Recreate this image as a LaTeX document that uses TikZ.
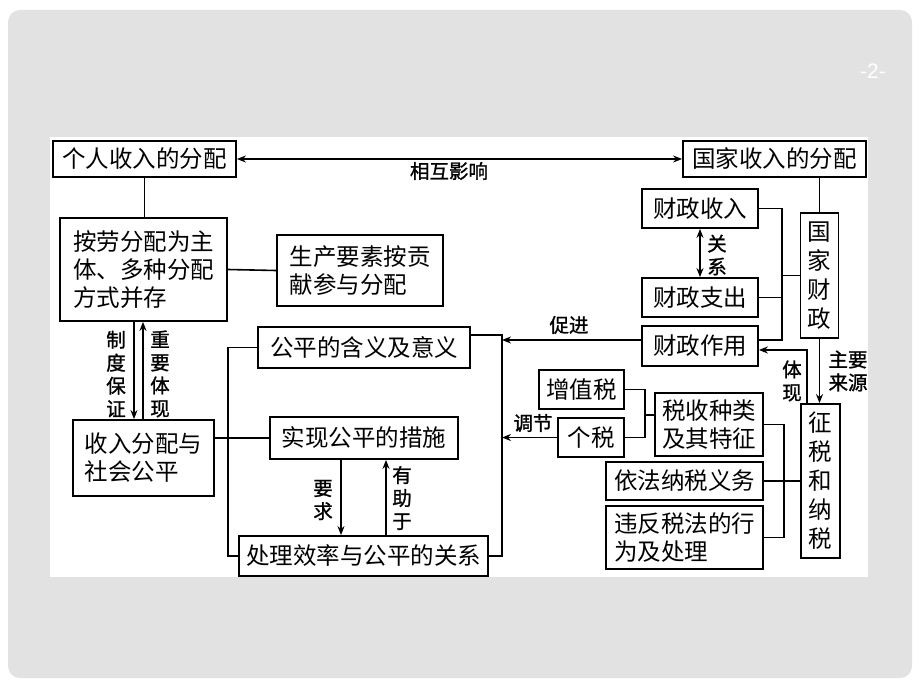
\documentclass[tikz,border=0pt]{standalone}
\usepackage{fontspec}
\setmainfont{Liberation Sans}
\newfontfamily\cjk{Noto Sans CJK SC}
\newfontfamily\cjkb[FakeBold=1.2]{Noto Sans CJK SC}
\usetikzlibrary{arrows.meta}
\definecolor{bgray}{RGB}{226,226,226}
\begin{document}
\begin{tikzpicture}[x=1pt,y=-1pt,
  box/.style={draw=black,line width=1.8pt,fill=white,inner sep=0pt,align=center,font=\cjk\fontsize{23.5}{28}\selectfont},
  lbox/.style={box,align=left},
  vbox/.style={box,font=\cjk\fontsize{23.5}{29}\selectfont},
  lbl/.style={inner sep=0pt,align=center,font=\cjkb\fontsize{19.5}{23}\selectfont},
  ln/.style={line width=1.6pt},
  arr/.style={ln,-{Stealth[length=9pt,width=7pt]}},
  darr/.style={ln,{Stealth[length=9pt,width=7pt]}-{Stealth[length=9pt,width=7pt]}}]
\useasboundingbox (0,0) rectangle (920,690);
\fill[white] (0,0) rectangle (920,690);
\fill[bgray, rounded corners=12pt] (8,10) rectangle (912,678);
\fill[white] (50,137) rectangle (868,577);
\node[text=white, font=\fontsize{21}{21}\selectfont] (pg) at (873,71) {-2-};

% helper x positions
\coordinate (bx) at (228,0);
\coordinate (bx2) at (502,0);
\coordinate (tx) at (645,0);
\coordinate (rx) at (782,0);
\coordinate (tx2) at (784,0);

% top boxes
\node[box, minimum width=183pt, minimum height=36pt] (p1) at (144.5,159) {个人收入的分配};
\node[box, minimum width=183pt, minimum height=36pt] (p2) at (774.5,159) {国家收入的分配};

% left part
\node[lbox, minimum width=167pt, minimum height=103pt] (a1) at (143.5,269.5) {按劳分配为主\\体、多种分配\\方式并存};
\node[lbox, minimum width=166pt, minimum height=71pt] (a2) at (360,270.5) {生产要素按贡\\献参与分配};
\node[lbox, minimum width=141pt, minimum height=76pt] (s1) at (143.5,458) {收入分配与\\社会公平};
\node[box, minimum width=212pt, minimum height=41pt] (f1) at (364,347.5) {公平的含义及意义};
\node[box, minimum width=188pt, minimum height=42pt] (f2) at (364,438) {实现公平的措施};
\node[box, minimum width=249pt, minimum height=40pt] (f3) at (363.5,556) {处理效率与公平的关系};

% right part
\node[box, minimum width=116pt, minimum height=39pt] (r1) at (700,208.5) {财政收入};
\node[box, minimum width=116pt, minimum height=39pt] (r2) at (700,297.5) {财政支出};
\node[box, minimum width=116pt, minimum height=40pt] (r3) at (700,346) {财政作用};
\node[vbox, minimum width=38pt, minimum height=125pt] (g1) at (819.5,275.5) {国\\家\\财\\政};
\node[vbox, minimum width=39pt, minimum height=154pt] (z1) at (820.5,481) {征\\税\\和\\纳\\税};
\node[box, minimum width=85pt, minimum height=39pt] (t1) at (581.5,389.5) {增值税};
\node[box, minimum width=66pt, minimum height=39pt] (t2) at (591,437.5) {个税};
\node[lbox, minimum width=108pt, minimum height=63pt] (t3) at (709,424.5) {税收种类\\及其特征};
\node[box, minimum width=157pt, minimum height=38pt] (t4) at (684.5,481) {依法纳税义务};
\node[lbox, minimum width=157pt, minimum height=63pt] (t5) at (684.5,537.5) {违反税法的行\\为及处理};

% labels
\node[lbl] (l0) at (449,171) {相互影响};
\node[lbl] (l1) at (116,374) {制\\度\\保\\证};
\node[lbl] (l2) at (160,374) {重\\要\\体\\现};
\node[lbl] (l3) at (323,500) {要\\求};
\node[lbl] (l4) at (402,498) {有\\助\\于};
\node[lbl] (l5) at (569,325) {促进};
\node[lbl] (l6) at (533,423) {调节};
\node[lbl] (l7) at (717,255) {关\\系};
\node[lbl] (l8) at (848,371) {主要\\来源};
\node[lbl] (l9) at (792,381) {体\\现};

% connectors left
\draw[darr] (p1.east) -- (p2.west);
\draw[ln] (p1.south) -- (p1.south |- a1.north);
\draw[ln] (a1.east) -- (a2.west);
\draw[arr] ([xshift=-9.5pt]a1.south) -- ([xshift=-9.5pt]a1.south |- s1.north);
\draw[arr] ([xshift=-0.5pt]a1.south |- s1.north) -- ([xshift=-0.5pt]a1.south);
\draw[ln] (s1.east |- f2.west) -- (f2.west);
\draw[ln] (f1.west) -- (f1.west -| bx) -- (f3.west -| bx) -- (f3.west);
\draw[arr] ([xshift=-23pt]f2.south) -- ([xshift=-23pt]f2.south |- f3.north);
\draw[arr] ([xshift=22pt]f2.south |- f3.north) -- ([xshift=22pt]f2.south);
\draw[ln] ([yshift=12.5pt]f1.east) -- ([yshift=12.5pt]f1.east -| bx2) -- (f3.east -| bx2) -- (f3.east);
\draw[arr] ([yshift=6pt]r3.west) -- ([yshift=6pt]r3.west -| bx2);
\draw[arr] (t2.west) -- (t2.west -| bx2);

% connectors right
\draw[darr] (r1.south) -- (r2.north);
\draw[ln] (r1.east) -- (r1.east -| rx) -- ([yshift=6pt]r3.east -| rx) -- ([yshift=6pt]r3.east);
\draw[ln] (r2.east) -- (r2.east -| rx);
\draw[ln] (g1.west) -- (g1.west -| rx);
\draw[ln] (g1.north |- p2.south) -- (g1.north);
\draw[arr] (g1.south) -- (g1.south |- z1.north);
\draw[arr] ([xshift=-13.5pt]z1.north) |- ([yshift=-4pt]r3.east);
\draw[ln] (t1.east) -- (t1.east -| tx) -- (t2.east -| tx) -- (t2.east);
\draw[ln] ([yshift=9.5pt]t3.west) -- ([yshift=9.5pt]t3.west -| tx);
\draw[ln] (t3.east) -- (t3.east -| tx2) -- (t5.east -| tx2) -- (t5.east);
\draw[ln] (t4.east) -- (t4.east -| z1.west);
\end{tikzpicture}
\end{document}
